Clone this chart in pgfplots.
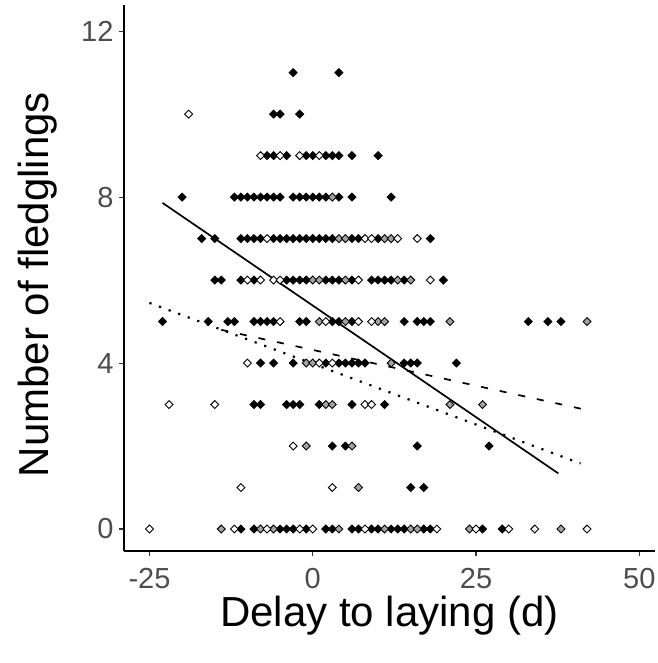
\documentclass[border=0pt]{standalone}
\usepackage{pgfplots}
\pgfplotsset{compat=1.18}
\usepackage{fontspec}
\setmainfont{Liberation Sans}
\definecolor{tickgray}{HTML}{4D4D4D}
\definecolor{ptgray}{HTML}{A3A3A3}
\pgfplotsset{pt/.style={only marks, mark=square*, mark size=2.8pt, mark options={rotate=45, draw=black, line width=0.9pt, fill=#1}}}
\begin{document}
\begin{tikzpicture}
\begin{axis}[
 scale only axis, width=531pt, height=546pt,
 xmin=-28.9, xmax=52.4, ymin=-0.53, ymax=12.63,
 axis lines=left, axis line style={-, line width=1.1pt, black},
 xtick={-25,0,25,50}, xticklabels={-25,0,25,50},
 ytick={0,4,8,12}, yticklabels={0,4,8,12},
 tick align=outside, major tick length=5pt, tick style={line width=1.1pt, color=black!80},
 ticklabel style={font=\fontsize{29}{32}\selectfont, text=tickgray},
 xticklabel style={yshift=-9pt},
 yticklabel style={xshift=-2pt},
 xlabel={Delay to laying (d)}, ylabel={Number of fledglings},
 label style={font=\fontsize{42}{48}\selectfont},
 xlabel style={at={(axis description cs:0.5,-0.139)}, anchor=base},
 ylabel style={at={(axis description cs:-0.143,0.488)}, anchor=base},
 clip=false,
]
% black
\addplot[pt=black] coordinates {
(-11,0)(-9,0)(-5,0)(-4,0)(-3,0)(-1,0)(2,0)(3,0)(6,0)(7,0)(9,0)(10,0)(12,0)(13,0)(14,0)(17,0)(18,0)(26,0)(29,0)
(15,1)(17,1)
(3,2)(5,2)(16,2)(27,2)
(-9,3)(-8,3)(-4,3)(-3,3)(-2,3)(1,3)(6,3)(11,3)
(-8,4)(-6,4)(-3,4)(2,4)(4,4)(5,4)(6,4)(7,4)(8,4)(14,4)(15,4)(16,4)(22,4)
(-23,5)(-16,5)(-13,5)(-12,5)(-9,5)(-8,5)(-7,5)(-6,5)(-2,5)(-1,5)(3,5)(4,5)(6,5)(14,5)(16,5)(17,5)(18,5)(33,5)(36,5)(38,5)
(-15,6)(-14,6)(-11,6)(-9,6)(-4,6)(-3,6)(-2,6)(-1,6)(2,6)(3,6)(4,6)(6,6)(9,6)(10,6)(11,6)(12,6)(14,6)(20,6)
(-17,7)(-15,7)(-11,7)(-10,7)(-9,7)(-8,7)(-6,7)(-5,7)(-4,7)(-3,7)(-2,7)(-1,7)(0,7)(1,7)(2,7)(3,7)(6,7)(7,7)(10,7)(18,7)
(-20,8)(-12,8)(-11,8)(-10,8)(-9,8)(-8,8)(-7,8)(-6,8)(-5,8)(-3,8)(-2,8)(-1,8)(0,8)(1,8)(2,8)(4,8)(6,8)(12,8)
(-7,9)(-6,9)(-4,9)(-1,9)(0,9)(2,9)(3,9)(4,9)(6,9)(10,9)
(-6,10)(-5,10)(-2,10)
(-3,11)(4,11)
};
% gray
\addplot[pt=ptgray] coordinates {
(-14,0)(-8,0)(-6,0)(4,0)(11,0)(15,0)(16,0)(24,0)(38,0)
(7,1)
(-1,2)(6,2)
(2,3)(3,3)(21,3)(26,3)
(-1,4)(0,4)(12,4)
(1,5)(5,5)(10,5)(11,5)(21,5)(42,5)
(0,6)(1,6)(5,6)(13,6)(15,6)
(4,7)(5,7)(11,7)(12,7)
(3,8)
};
% white
\addplot[pt=white] coordinates {
(-25,0)(-12,0)(-7,0)(-2,0)(0,0)(8,0)(19,0)(25,0)(30,0)(34,0)(42,0)
(-11,1)(3,1)
(-3,2)
(-22,3)(-15,3)(8,3)(9,3)
(-10,4)(1,4)(3,4)
(-5,5)(2,5)(7,5)(9,5)
(-10,6)(-8,6)(-6,6)(-5,6)(7,6)(18,6)
(-7,7)(8,7)(9,7)(13,7)(16,7)
(-8,9)(-5,9)(-2,9)(1,9)
(-19,10)
};
\addplot[black, line width=1.7pt, no marks] coordinates {(-23,7.86) (37.6,1.34)};
\addplot[black, line width=1.7pt, no marks, dash pattern=on 7pt off 12pt] coordinates {(-14,4.8) (41.9,2.87)};
\addplot[black, line width=2.2pt, no marks, dash pattern=on 2.2pt off 8pt] coordinates {(-25,5.45) (41,1.58)};
\coordinate (bl) at (rel axis cs:0,0);
\end{axis}
\pgfresetboundingbox
\path (bl) ++(-124pt,-112pt) rectangle ++(657pt,663pt);
\end{tikzpicture}
\end{document}
